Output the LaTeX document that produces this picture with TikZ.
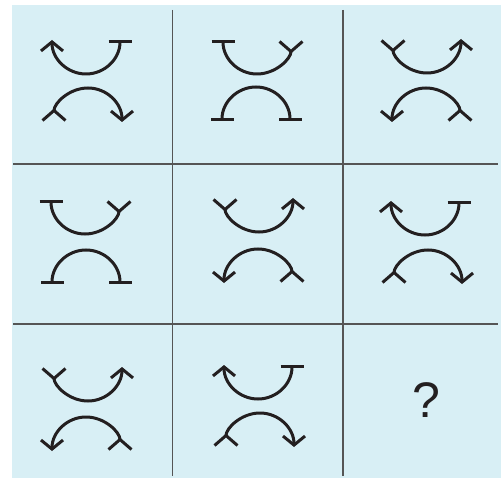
\documentclass[tikz,border=0pt]{standalone}
\usepackage{fontspec}
\setmainfont{Liberation Sans}
\usepackage{tikz}
\usetikzlibrary{arrows.meta}
\definecolor{panel}{RGB}{216,239,245}
\definecolor{ink}{RGB}{35,31,32}
\definecolor{rule}{RGB}{85,85,85}

\begin{document}
\begin{tikzpicture}[x=1pt,y=1pt,
  barb/.tip={Straight Barb[length=9pt,width=22pt]},
  tbar/.tip={Bar[width=23pt]},
  fork/.tip={Straight Barb[reversed,length=10pt,width=23pt]},
  sym/.style={line width=3pt,draw=ink},
  gridline/.style={line width=1.4pt,draw=rule}]
\useasboundingbox (0,0) rectangle (503,-478);
\fill[panel] (12,-5) rectangle (501,-478);
\draw[gridline] (172.7,-10)--(172.7,-476);
\draw[gridline] (343,-10)--(343,-476);
\draw[gridline] (13,-164)--(498,-164);
\draw[gridline] (13,-324)--(498,-324);
\coordinate (U11) at (86,-40);
\coordinate (L11) at (88,-122);
\coordinate (U12) at (257,-40);
\coordinate (L12) at (256,-121);
\coordinate (U13) at (427,-39);
\coordinate (L13) at (426,-122);
\coordinate (U21) at (85,-200);
\coordinate (L21) at (86,-284);
\coordinate (U22) at (259,-198);
\coordinate (L22) at (258,-283);
\coordinate (U23) at (425,-201);
\coordinate (L23) at (428,-284);
\coordinate (U31) at (88,-367);
\coordinate (L31) at (86,-451);
\coordinate (U32) at (258,-365);
\coordinate (L32) at (260,-447);
\draw[sym,barb-tbar] ([xshift=-34pt]U11) arc[start angle=180,end angle=360,radius=34];
\draw[sym,fork-barb] ([xshift=-34pt]L11) arc[start angle=180,end angle=0,radius=34];
\draw[sym,tbar-fork] ([xshift=-34pt]U12) arc[start angle=180,end angle=360,radius=34];
\draw[sym,tbar-tbar] ([xshift=-34pt]L12) arc[start angle=180,end angle=0,radius=34];
\draw[sym,fork-barb] ([xshift=-34pt]U13) arc[start angle=180,end angle=360,radius=34];
\draw[sym,barb-fork] ([xshift=-34pt]L13) arc[start angle=180,end angle=0,radius=34];
\draw[sym,tbar-fork] ([xshift=-34pt]U21) arc[start angle=180,end angle=360,radius=34];
\draw[sym,tbar-tbar] ([xshift=-34pt]L21) arc[start angle=180,end angle=0,radius=34];
\draw[sym,fork-barb] ([xshift=-34pt]U22) arc[start angle=180,end angle=360,radius=34];
\draw[sym,barb-fork] ([xshift=-34pt]L22) arc[start angle=180,end angle=0,radius=34];
\draw[sym,barb-tbar] ([xshift=-34pt]U23) arc[start angle=180,end angle=360,radius=34];
\draw[sym,fork-barb] ([xshift=-34pt]L23) arc[start angle=180,end angle=0,radius=34];
\draw[sym,fork-barb] ([xshift=-34pt]U31) arc[start angle=180,end angle=360,radius=34];
\draw[sym,barb-fork] ([xshift=-34pt]L31) arc[start angle=180,end angle=0,radius=34];
\draw[sym,barb-tbar] ([xshift=-34pt]U32) arc[start angle=180,end angle=360,radius=34];
\draw[sym,fork-barb] ([xshift=-34pt]L32) arc[start angle=180,end angle=0,radius=34];
\node[text=ink,font=\fontsize{50}{50}\selectfont] (qmark) at (426,-400) {?};
\end{tikzpicture}
\end{document}
